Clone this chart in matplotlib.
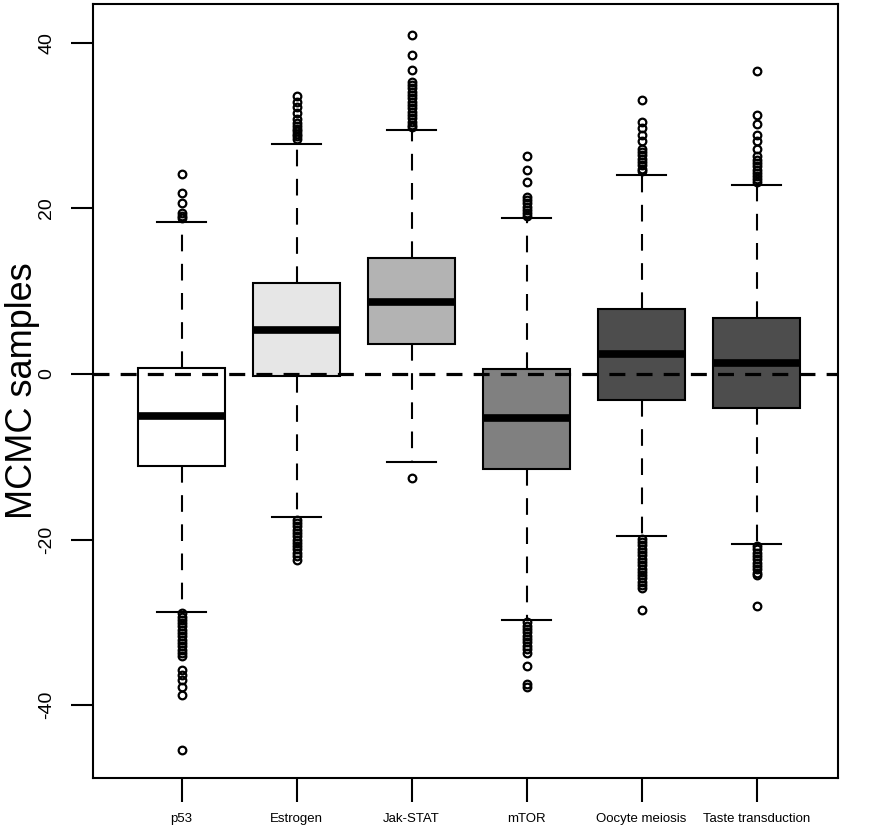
import matplotlib
matplotlib.use("Agg")
import matplotlib.pyplot as plt
from matplotlib import font_manager

# pathways on the x axis
pathways = ["p53", "Estrogen", "Jak-STAT", "mTOR", "Oocyte meiosis", "Taste transduction"]
box_colors = ["#ffffff", "#e6e6e6", "#b3b3b3", "#808080", "#4d4d4d", "#4d4d4d"]

# box statistics
medians = [-5.1, 5.3, 8.7, -5.3, 2.4, 1.3]
q1 = [-11.1, -0.25, 3.6, -11.5, -3.1, -4.1]
q3 = [0.7, 11.0, 14.0, 0.6, 7.9, 6.8]
whisker_lo = [-28.7, -17.3, -10.6, -29.7, -19.6, -20.5]
whisker_hi = [18.4, 27.8, 29.5, 18.9, 24.1, 22.8]

# outliers
fliers_p53 = [24.2, 21.9, 20.7, 19.4, 19.1, 18.8,
              -28.9, -29.3, -29.7, -30.1, -30.5, -30.9, -31.3, -31.7, -32.1, -32.5,
              -32.9, -33.3, -33.7, -34.1, -35.8, -36.4, -37.0, -37.8, -38.8, -45.4]
fliers_estrogen = [33.6, 32.9, 32.2, 31.5, 30.8, 30.3, 29.9, 29.6, 29.3, 29.0, 28.7, 28.4,
                   -17.6, -18.0, -18.4, -18.8, -19.2, -19.6, -20.0, -20.4, -20.8, -21.2,
                   -21.6, -22.0, -22.5]
fliers_jakstat = [41.0, 38.5, 36.7, 35.3, 34.9, 34.5, 34.1, 33.7, 33.3, 32.9, 32.5, 32.1,
                  31.7, 31.3, 30.9, 30.5, 30.1, 29.8, -12.6]
fliers_mtor = [26.3, 24.6, 23.2, 21.4, 21.0, 20.6, 20.2, 19.8, 19.4, 19.1,
               -30.0, -30.4, -30.8, -31.2, -31.6, -32.0, -32.4, -32.8, -33.2, -33.7,
               -35.3, -37.4, -37.8]
fliers_oocyte = [33.1, 30.5, 29.7, 28.9, 28.1, 27.2, 26.8, 26.4, 26.0, 25.6, 25.2, 24.8, 24.5,
                 -19.9, -20.3, -20.7, -21.1, -21.5, -21.9, -22.3, -22.7, -23.1, -23.5,
                 -23.9, -24.3, -24.7, -25.1, -25.5, -25.9, -28.5]
fliers_taste = [36.6, 31.3, 30.2, 28.9, 28.1, 27.2, 26.3, 25.9, 25.5, 25.1, 24.7, 24.3,
                23.9, 23.5, 23.2,
                -20.8, -21.2, -21.6, -22.0, -22.4, -22.8, -23.2, -23.6, -24.0, -24.3, -28.0]
fliers = [fliers_p53, fliers_estrogen, fliers_jakstat, fliers_mtor, fliers_oocyte, fliers_taste]

yticks = [-40, -20, 0, 20, 40]

# narrow font for the x labels if we have one
names = {f.name for f in font_manager.fontManager.ttflist}
narrow = "Liberation Sans Narrow" if "Liberation Sans Narrow" in names else "Liberation Sans"

stats = []
for i in range(len(pathways)):
    stats.append(dict(med=medians[i], q1=q1[i], q3=q3[i],
                      whislo=whisker_lo[i], whishi=whisker_hi[i],
                      fliers=fliers[i], label=pathways[i]))

fig = plt.figure(figsize=(8.94, 8.30), dpi=100)
ax = fig.add_axes([0.104, 0.0627, 0.8336, 0.9325])

positions = list(range(1, len(pathways) + 1))
bp = ax.bxp(stats, positions=positions, widths=0.76, capwidths=0.42,
            patch_artist=True,
            boxprops=dict(linewidth=1.5, edgecolor="black"),
            medianprops=dict(color="black", linewidth=5.5, solid_capstyle="butt"),
            whiskerprops=dict(color="black", linewidth=1.5, linestyle=(0, (8, 6))),
            capprops=dict(color="black", linewidth=1.5),
            flierprops=dict(marker="o", markersize=5.5, markerfacecolor="none",
                            markeredgecolor="black", markeredgewidth=1.6))
for patch, c in zip(bp["boxes"], box_colors):
    patch.set_facecolor(c)

# zero reference line
ax.axhline(0, color="black", linewidth=2.3, linestyle=(0, (5, 3.5)), zorder=5)

ax.set_xlim(0.23, 6.71)
ax.set_ylim(-48.8, 44.7)
ax.set_yticks(yticks)
ax.set_yticklabels([str(t) for t in yticks], rotation=90, va="center",
                   fontsize=14, family="Liberation Sans")
ax.set_xticks(positions)
xfs = 10.5 if narrow != "Liberation Sans" else 9.5
ax.set_xticklabels(pathways, fontsize=xfs, family=narrow)
ax.tick_params(axis="y", length=16, width=1.5, pad=11)
ax.tick_params(axis="x", length=17, width=1.5, pad=8)
for s in ax.spines.values():
    s.set_linewidth(1.5)

ax.set_ylabel("MCMC samples", fontsize=26, family="Liberation Sans")
ax.yaxis.set_label_coords(-0.071, 0.5)

fig.savefig("out.png", dpi=100)
